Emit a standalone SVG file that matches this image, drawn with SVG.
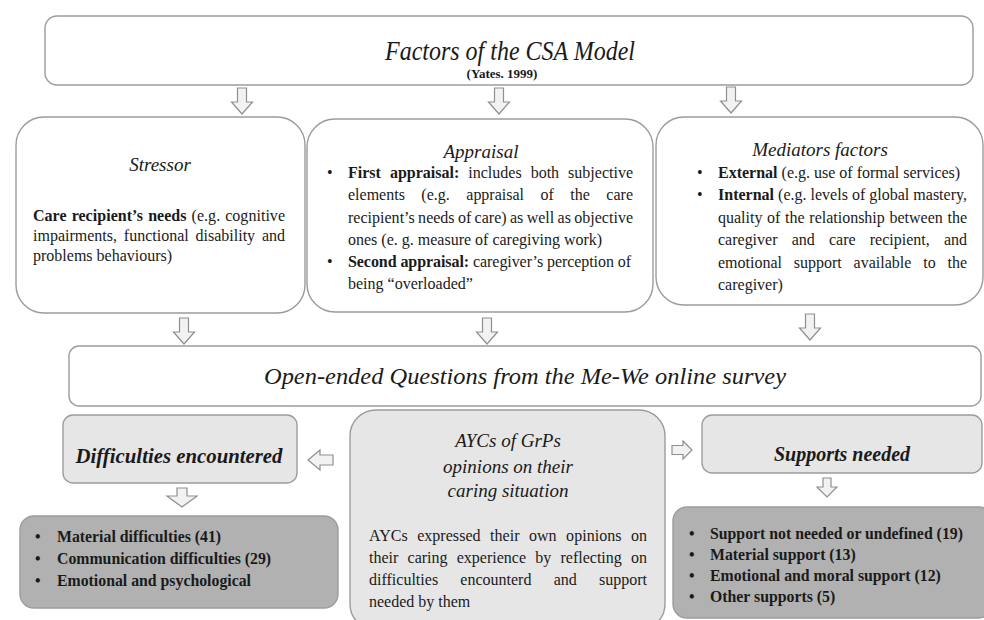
<svg xmlns="http://www.w3.org/2000/svg" width="984" height="620" viewBox="0 0 984 620" font-family="'Liberation Serif','DejaVu Serif',serif">
<style>
.box{fill:#ffffff;stroke:#9c9c9c;stroke-width:1.4}
.lt{fill:#e6e6e6;stroke:#9c9c9c;stroke-width:1.4}
.dk{fill:#b1b1b1;stroke:#9c9c9c;stroke-width:1.4}
.arr{fill:#f2f2f2;stroke:#8f8f8f;stroke-width:1.2;stroke-linejoin:miter}
text{font-family:'Liberation Serif','DejaVu Serif',serif;fill:#1a1a1a}
.t{font-size:16px}
.l{font-size:15.8px;font-weight:bold}
.h{font-size:19px;font-style:italic}
.ti{font-style:italic}
.b{font-weight:bold}
.mid{text-anchor:middle}
</style>
<defs>
<path id="dn" d="M-4.5,0 H4.5 V14 H10.5 L0,26 L-10.5,14 H-4.5 Z"/>
</defs>
<rect width="984" height="620" fill="#ffffff"/>

<g id="connectors">
<use href="#dn" class="arr" x="242" y="88"/>
<use href="#dn" class="arr" x="499" y="88"/>
<use href="#dn" class="arr" x="731" y="87"/>
<use href="#dn" class="arr" x="184" y="318"/>
<use href="#dn" class="arr" x="487" y="318"/>
<use href="#dn" class="arr" x="810" y="314"/>
<path class="arr" d="M177,488 H187 V496 H197 L182,507 L167,496 H177 Z"/>
<path class="arr" d="M823,478 H831 V487 H837 L827,497 L817,487 H823 Z"/>
<path class="arr" d="M308,460 L320,450 V455 H333 V465 H320 V470 Z"/>
<path class="arr" d="M672,445.5 H683 V441 L692,450 L683,459 V454.5 H672 Z"/>
</g>

<g id="csa-model">
<rect class="box" x="45" y="16" width="928" height="69" rx="12"/>
<text class="ti mid" x="510" y="60" font-size="27" textLength="250" lengthAdjust="spacingAndGlyphs">Factors of the CSA Model</text>
<text class="b mid" x="502" y="78" font-size="13">(Yates. 1999)</text>
</g>

<g id="stressor">
<rect class="box" x="16" y="117" width="289" height="196" rx="28"/>
<text class="h mid" x="160" y="171">Stressor</text>
<text class="t" x="33" y="221" word-spacing="1" textLength="252" lengthAdjust="spacing"><tspan class="b">Care recipient’s needs</tspan> (e.g. cognitive</text>
<text class="t" x="33" y="241" word-spacing="2.8" textLength="252" lengthAdjust="spacing">impairments, functional disability and</text>
<text class="t" x="33" y="261">problems behaviours)</text>
</g>

<g id="appraisal">
<rect class="box" x="307" y="119" width="346" height="193" rx="28"/>
<text class="h mid" x="481" y="158">Appraisal</text>
<text class="t" x="327" y="178">•</text>
<text class="t" x="348" y="178" word-spacing="5" textLength="285" lengthAdjust="spacing"><tspan class="b">First appraisal:</tspan> includes both subjective</text>
<text class="t" x="348" y="200" word-spacing="12.5" textLength="285" lengthAdjust="spacing">elements (e.g. appraisal of the care</text>
<text class="t" x="348" y="223" word-spacing="-0.7" textLength="285" lengthAdjust="spacing">recipient’s needs of care) as well as objective</text>
<text class="t" x="348" y="245">ones (e. g. measure of caregiving work)</text>
<text class="t" x="327" y="267">•</text>
<text class="t" x="348" y="267" textLength="283" lengthAdjust="spacing"><tspan class="b">Second appraisal:</tspan> caregiver’s perception of</text>
<text class="t" x="348" y="289">being “overloaded”</text>
</g>

<g id="mediators">
<rect class="box" x="656" y="117" width="327" height="188" rx="28"/>
<text class="h mid" x="820" y="156">Mediators factors</text>
<text class="t" x="697" y="178">•</text>
<text class="t" x="718" y="178"><tspan class="b">External</tspan> (e.g. use of formal services)</text>
<text class="t" x="697" y="200">•</text>
<text class="t" x="718" y="200" textLength="249" lengthAdjust="spacing"><tspan class="b">Internal</tspan> (e.g. levels of global mastery,</text>
<text class="t" x="718" y="223" word-spacing="0.7" textLength="249" lengthAdjust="spacing">quality of the relationship between the</text>
<text class="t" x="718" y="245" word-spacing="10.2" textLength="249" lengthAdjust="spacing">caregiver and care recipient, and</text>
<text class="t" x="718" y="268" word-spacing="7.8" textLength="249" lengthAdjust="spacing">emotional support available to the</text>
<text class="t" x="718" y="290">caregiver)</text>
</g>

<g id="open-ended">
<rect class="box" x="69" y="346" width="912" height="60" rx="10"/>
<text class="ti mid" x="525" y="384" font-size="23" textLength="522" lengthAdjust="spacingAndGlyphs">Open-ended Questions from the Me-We online survey</text>
</g>

<g id="difficulties">
<rect class="lt" x="63" y="415" width="234" height="68" rx="10"/>
<text class="ti b mid" x="179" y="463" font-size="20" textLength="207" lengthAdjust="spacingAndGlyphs">Difficulties encountered</text>
</g>

<g id="aycs">
<rect class="lt" x="350" y="410" width="315" height="220" rx="26"/>
<text class="h mid" x="508" y="447">AYCs of GrPs</text>
<text class="h mid" x="508" y="473">opinions on their</text>
<text class="h mid" x="508" y="497">caring situation</text>
<text class="t" x="369" y="541" word-spacing="5.4" textLength="278" lengthAdjust="spacing">AYCs expressed their own opinions on</text>
<text class="t" x="369" y="563" word-spacing="5.2" textLength="278" lengthAdjust="spacing">their caring experience by reflecting on</text>
<text class="t" x="369" y="585" word-spacing="18.2" textLength="278" lengthAdjust="spacing">difficulties encounterd and support</text>
<text class="t" x="369" y="607">needed by them</text>
</g>

<g id="supports">
<rect class="lt" x="702" y="415" width="280" height="58" rx="10"/>
<text class="ti b mid" x="842" y="461" font-size="20">Supports needed</text>
</g>

<g id="difficulties-list">
<rect class="dk" x="20" y="516" width="318" height="92" rx="14"/>
<text class="l" x="35" y="542">•</text>
<text class="l" x="57" y="542">Material difficulties (41)</text>
<text class="l" x="35" y="564">•</text>
<text class="l" x="57" y="564">Communication difficulties (29)</text>
<text class="l" x="35" y="586">•</text>
<text class="l" x="57" y="586">Emotional and psychological</text>
</g>

<g id="supports-list">
<rect class="dk" x="673" y="507" width="320" height="111" rx="14"/>
<text class="l" x="689" y="539">•</text>
<text class="l" x="710" y="539">Support not needed or undefined (19)</text>
<text class="l" x="689" y="560">•</text>
<text class="l" x="710" y="560">Material support (13)</text>
<text class="l" x="689" y="581">•</text>
<text class="l" x="710" y="581">Emotional and moral support (12)</text>
<text class="l" x="689" y="602">•</text>
<text class="l" x="710" y="602">Other supports (5)</text>
</g>
</svg>
